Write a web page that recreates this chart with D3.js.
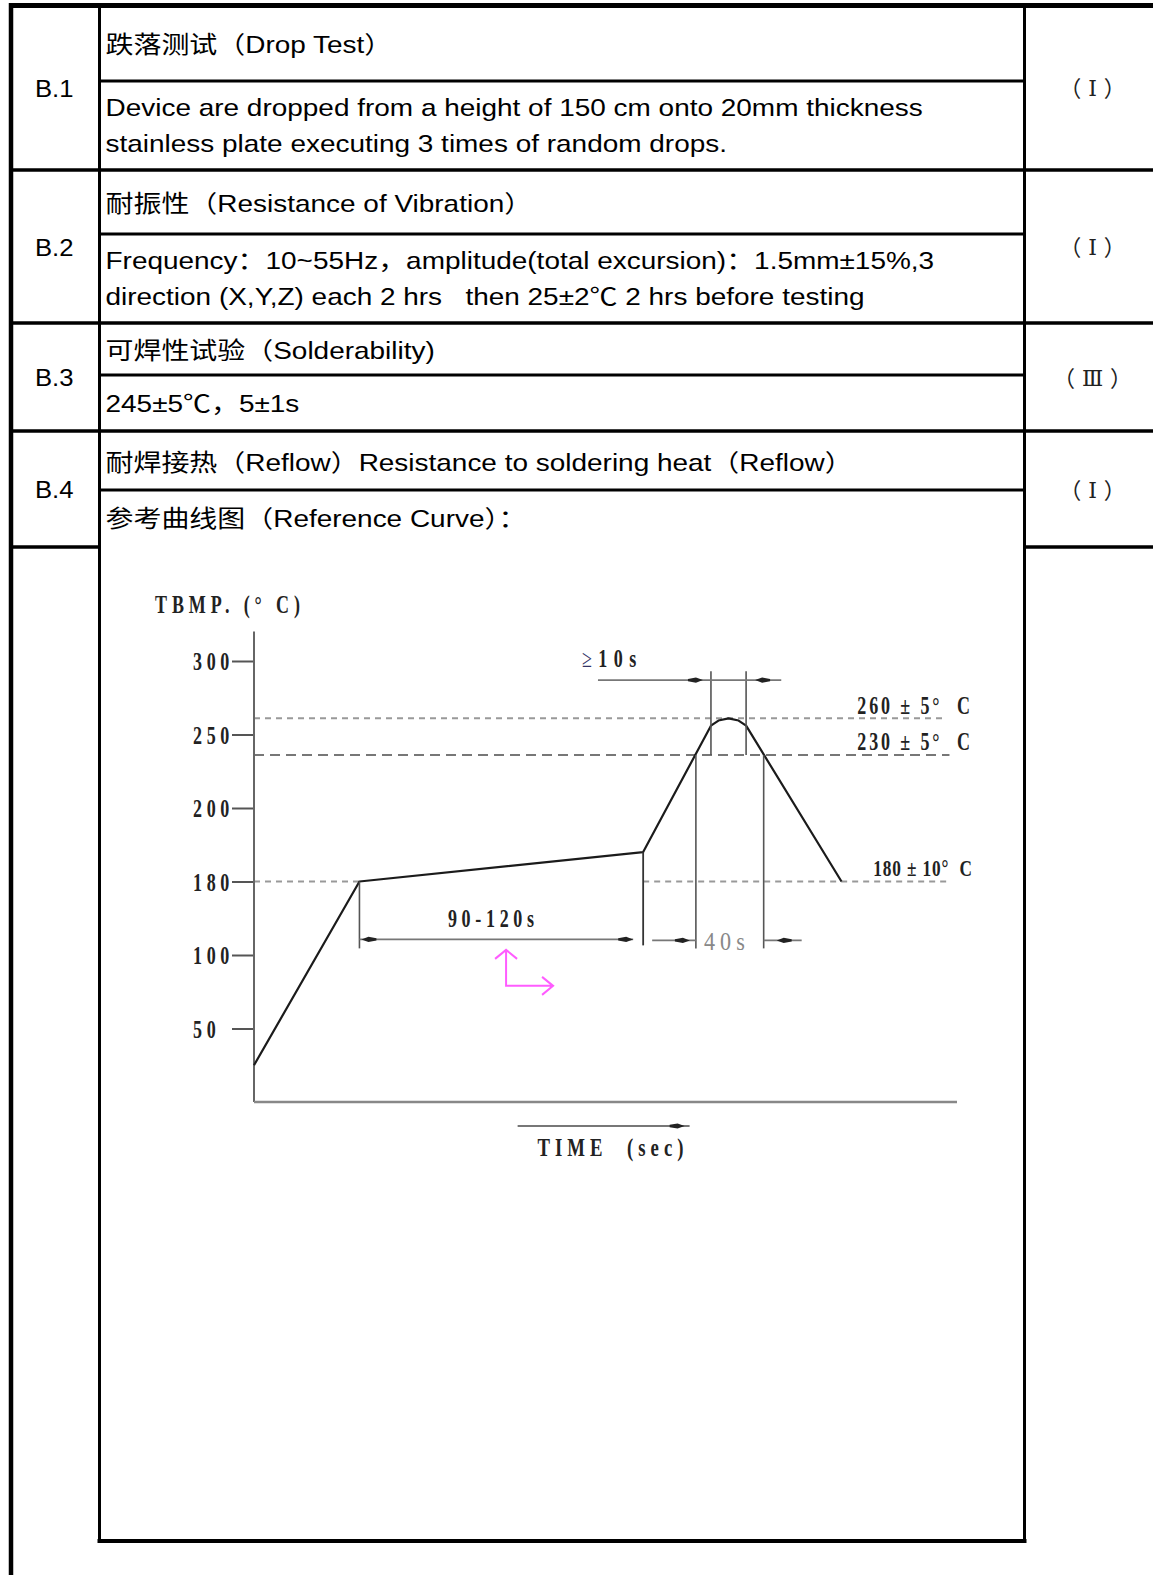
<!DOCTYPE html>
<html>
<head>
<meta charset="utf-8">
<script src="https://cdn.jsdelivr.net/npm/d3@7"></script>
<style>
  body { margin: 0; background: #fff; }
  svg { display: block; }
  .cell { font-family: "Liberation Sans", Arial, "Noto Sans CJK SC", sans-serif; fill: #000; white-space: pre; }
  .grade { font-family: "Liberation Serif", "DejaVu Serif", "Noto Sans CJK SC", serif; fill: #222; }
  .draw { font-family: "Liberation Serif", serif; font-weight: bold; fill: #222; white-space: pre; }
</style>
</head>
<body>
<div id="sheet"></div>
<script>
// table content
const rowIds = ['B.1', 'B.2', 'B.3', 'B.4'];
const rowTitles = [
  '跌落测试（Drop Test）',
  '耐振性（Resistance of Vibration）',
  '可焊性试验（Solderability)',
  '耐焊接热（Reflow）Resistance to soldering heat（Reflow）'
];
const rowDetails = [
  ['Device are dropped from a height of 150 cm onto 20mm thickness',
   'stainless plate executing 3 times of random drops.'],
  ['Frequency：10~55Hz，amplitude(total excursion)：1.5mm±15%,3',
   'direction (X,Y,Z) each 2 hrs   then 25±2℃ 2 hrs before testing'],
  ['245±5℃，5±1s'],
  ['参考曲线图（Reference Curve）：']
];
const rowGrades = ['（Ⅰ）', '（Ⅰ）', '（Ⅲ）', '（Ⅰ）'];

// reflow profile (time in s, temperature in °C)
const tempTicks = [300, 250, 200, 180, 100, 50];
const profileTime = [0, 42, 155, 182, 185, 189, 193, 196, 234];
const profileTemp = [25, 180, 188, 256, 259.5, 261, 259.5, 256, 180];
const limitTemps = [261, 236, 180];
const limitLabels = ['260 ± 5°  C', '230 ± 5°  C', '180 ± 10°  C'];
const spanLabels = ['90-120s', '40s', '10s'];
const spanStart = [42, 176, 182];
const spanEnd = [155, 203, 196];

const W = 1153, H = 1575;
const sx = 1.165; // the scanned sheet is stretched sideways

const svg = d3.select('#sheet').append('svg')
              .attr('width', W)
              .attr('height', H);
svg.append('rect').attr('width', W).attr('height', H).attr('fill', '#fff');

// table grid
const rowTop = [5, 170, 323, 431];
const rowMid = [81, 234, 375, 490];
const rowEnd = [170, 323, 431, 547];

const rules = svg.append('g').attr('stroke', '#000');
function rule(x1, y1, x2, y2, w) {
  rules.append('line')
       .attr('x1', x1).attr('y1', y1)
       .attr('x2', x2).attr('y2', y2)
       .attr('stroke-width', w);
}
rule(9, 5.5, W, 5.5, 5);
rule(11, 3, 11, H, 4.5);
rule(99.5, 3, 99.5, 1543, 3);
rule(1024.5, 3, 1024.5, 1543, 3);
rule(97.5, 1541, 1026.5, 1541, 4);
rowEnd.slice(0, 3).forEach(v => rule(9, v, W, v, 3.5));
rule(9, 547, 99.5, 547, 3.5);
rule(1024.5, 547, W, 547, 3.5);
rowMid.forEach(v => rule(99.5, v, 1024.5, v, 3));

function cellText(str, px, py, size, cls, anchor, stretch) {
  return svg.append('text')
            .attr('class', cls)
            .attr('transform', `translate(${px},${py}) scale(${stretch},1)`)
            .attr('dy', '0.35em')
            .attr('text-anchor', anchor)
            .style('font-size', size + 'px')
            .text(str);
}

rowIds.forEach((id, i) => {
  const mid = (rowTop[i] + rowEnd[i]) / 2 + 1;
  cellText(id, 35, mid, 24, 'cell', 'start', 1.07);
  cellText(rowTitles[i], 105.5, (rowTop[i] + rowMid[i]) / 2 + 2, 24, 'cell', 'start', sx);
  const lines = rowDetails[i];
  const dc = (rowMid[i] + rowEnd[i]) / 2 + 0.5;
  lines.forEach((t, j) => {
    cellText(t, 105.5, dc + (j - (lines.length - 1) / 2) * 36, 24, 'cell', 'start', sx);
  });
  cellText(rowGrades[i], 1096, mid, 22, 'grade', 'middle', 1)
    .style('letter-spacing', '7px');
});

// reflow chart
const chart = svg.append('g');

const x = d3.scaleLinear().domain([0, 280]).range([254, 957]);
const yKnots = [0, 50, 100, 180, 200, 250, 300];
const y = d3.scaleLinear()
            .domain(yKnots)
            .range(yKnots.map((d, i) => 1102 - i * 73.5));

function drawText(str, px, py, o) {
  return chart.append('text')
              .attr('class', 'draw')
              .attr('transform', `translate(${px},${py}) scale(${o.sx || 0.72},1)`)
              .attr('dy', '0.35em')
              .attr('text-anchor', o.anchor || 'start')
              .style('font-size', (o.size || 25) + 'px')
              .style('letter-spacing', (o.ls || 0) + 'px')
              .text(str);
}
function seg(x1, y1, x2, y2, color, w) {
  return chart.append('line')
              .attr('x1', x1).attr('y1', y1)
              .attr('x2', x2).attr('y2', y2)
              .attr('stroke', color)
              .attr('stroke-width', w);
}
function blob(px, py, dir) {
  chart.append('path')
       .attr('d', `M${px},${py} L${px - dir * 7},${py - 2.6} L${px - dir * 15},${py - 1.2}` +
                  ` L${px - dir * 15},${py + 1.2} L${px - dir * 7},${py + 2.6} Z`)
       .attr('fill', '#222');
}

// limit lines
const limitDash = ['6,5', '10,6', '6,5'];
const limitColor = ['#999', '#777', '#999'];
const limitSpacing = [4, 4, 1.2];
const limitSegments = [[[0, 276]], [[0, 277]], [[0, 42], [155, 276]]];
limitTemps.forEach((v, i) => {
  limitSegments[i].forEach(s => {
    seg(x(s[0]), y(v), x(s[1]), y(v), limitColor[i], 2)
      .attr('stroke-dasharray', limitDash[i]);
  });
  drawText(limitLabels[i], x(276) + 26, y(v) - 13.5,
           {anchor: 'end', ls: limitSpacing[i], size: i === 2 ? 24 : 25});
});

// axes
chart.append('g')
     .attr('transform', `translate(${x(0)},0)`)
     .call(d3.axisLeft(y).tickValues(tempTicks).tickSize(22).tickFormat(d3.format('d')))
     .call(g => g.select('.domain').remove())
     .call(g => g.selectAll('.tick line').attr('stroke', '#555').attr('stroke-width', 2))
     .call(g => g.selectAll('.tick text')
                 .attr('class', 'draw')
                 .attr('x', 0)
                 .attr('dy', '0.35em')
                 .attr('text-anchor', 'start')
                 .attr('transform', 'translate(-61,0) scale(0.72,1)')
                 .style('font-size', '25px')
                 .style('letter-spacing', '6.5px'));

seg(x(0), y(0), x(0), y(320), '#666', 2);
seg(x(0), y(0), x(280), y(0), '#888', 2.5);
drawText('TBMP. (° C)', 155, 604, {ls: 6.8});

// time label with arrow
const timeY = y(0) + 24;
seg(x(105), timeY, x(173.5), timeY, '#777', 2);
blob(x(173.5) - 5, timeY, 1);
drawText('TIME  (sec)', 613, 1147, {anchor: 'middle', size: 26, ls: 7});

// profile curve
chart.append('path')
     .datum(d3.zip(profileTime, profileTemp))
     .attr('d', d3.line().x(d => x(d[0])).y(d => y(d[1])))
     .attr('fill', 'none')
     .attr('stroke', '#1b1b1b')
     .attr('stroke-width', 2.2)
     .attr('stroke-linejoin', 'round');

// dimension marks
const dimY = y(117);
const dimColor = '#555';

// preheat 90-120s
seg(x(spanStart[0]), y(180), x(spanStart[0]), dimY + 9, dimColor, 1.6);
seg(x(spanEnd[0]), y(188), x(spanEnd[0]), dimY + 6, '#333', 1.8);
seg(x(spanStart[0]), dimY, x(spanEnd[0]) - 10, dimY, '#777', 1.8);
blob(x(spanStart[0]) + 2, dimY, -1);
blob(x(spanEnd[0]) - 10, dimY, 1);
drawText(spanLabels[0], (x(spanStart[0]) + x(spanEnd[0]) - 10) / 2 - 3, dimY - 21,
         {anchor: 'middle', ls: 6.5});

// 40s above 230
seg(x(spanStart[1]), y(236), x(spanStart[1]), dimY + 9, dimColor, 1.6);
seg(x(spanEnd[1]), y(236), x(spanEnd[1]), dimY + 9, dimColor, 1.6);
seg(x(spanEnd[0]) + 9, dimY + 1, x(spanStart[1]), dimY + 1, '#777', 1.8);
blob(x(spanStart[1]) - 6, dimY + 1, 1);
seg(x(spanEnd[1]), dimY + 1, x(spanEnd[1]) + 38, dimY + 1, '#777', 1.8);
blob(x(spanEnd[1]) + 13, dimY + 1, -1);
chart.append('text')
     .attr('transform', `translate(${x(spanStart[1]) + 8},${dimY + 2}) scale(0.85,1)`)
     .attr('dy', '0.35em')
     .style('font-family', '"Liberation Serif", serif')
     .style('font-size', '26px')
     .style('letter-spacing', '6px')
     .attr('fill', '#888')
     .text(spanLabels[1]);

// peak >= 10s
const peakY = y(287);
seg(x(spanStart[2]), y(236), x(spanStart[2]), y(293), dimColor, 1.6);
seg(x(spanEnd[2]), y(236), x(spanEnd[2]), y(293), dimColor, 1.6);
seg(x(137), peakY, x(210), peakY, '#777', 1.8);
blob(x(spanStart[2]) - 8, peakY, 1);
blob(x(spanEnd[2]) + 9, peakY, -1);
const peakLabel = drawText('', x(137) - 16, peakY - 22, {ls: 9});
peakLabel.append('tspan').style('font-weight', 'normal').attr('fill', '#336').text('≥');
peakLabel.append('tspan').text(spanLabels[2]);

// stray pink axes mark on the scan
const iconAt = [100.4, 79];
const ix = x(iconAt[0]), iy = y(iconAt[1]);
chart.append('path')
     .attr('d', `M${ix},${iy - 36} L${ix},${iy} L${ix + 47},${iy}` +
                ` M${ix - 11},${iy - 27} L${ix},${iy - 36} L${ix + 11},${iy - 27}` +
                ` M${ix + 36},${iy - 9} L${ix + 47},${iy} L${ix + 36},${iy + 9}`)
     .attr('fill', 'none')
     .attr('stroke', '#ff5cff')
     .attr('stroke-width', 2);
</script>
</body>
</html>
